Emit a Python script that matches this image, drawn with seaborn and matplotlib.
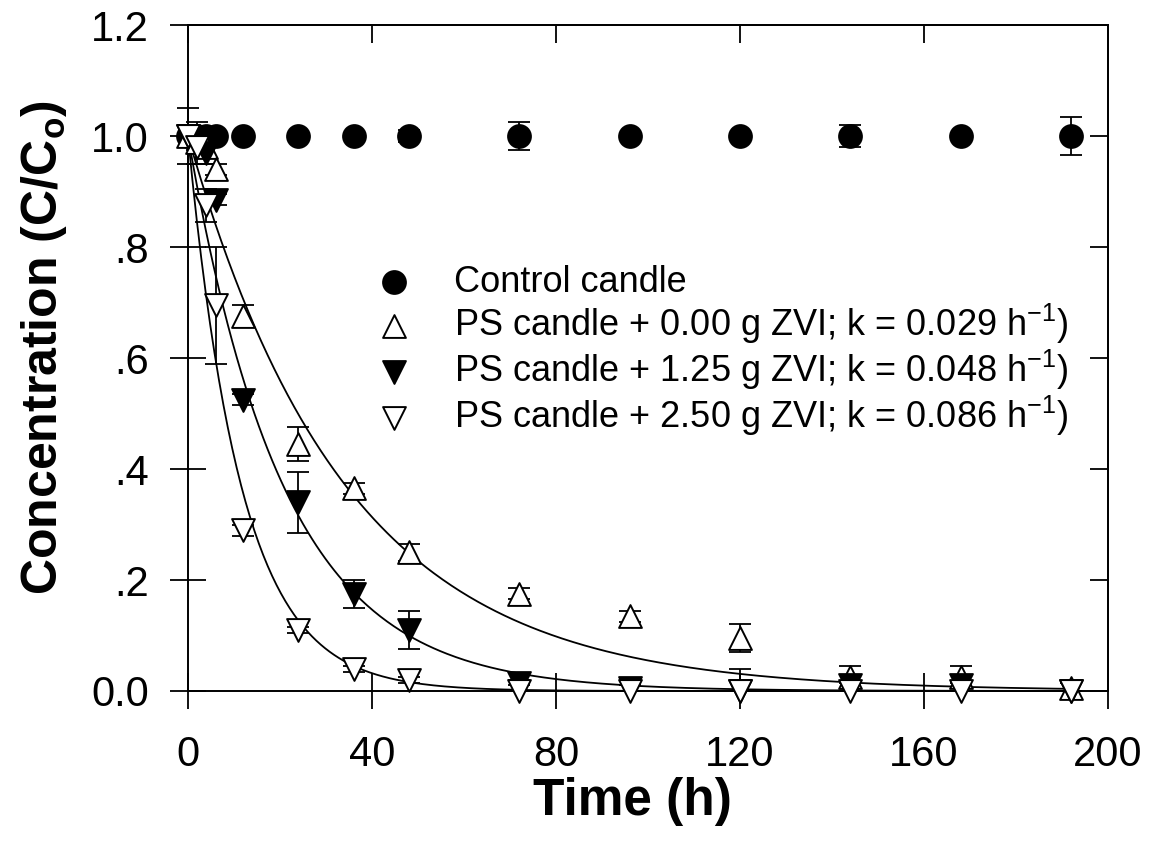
import numpy as np
import pandas as pd
import matplotlib
matplotlib.use('Agg')
import matplotlib.pyplot as plt
import seaborn as sns

sns.set_style('white')
plt.rcParams['font.family'] = ['Liberation Sans', 'DejaVu Sans']
plt.rcParams['mathtext.fontset'] = 'custom'
plt.rcParams['mathtext.rm'] = 'Liberation Sans'
plt.rcParams['mathtext.bf'] = 'Liberation Sans:bold'
plt.rcParams['text.color'] = 'black'
plt.rcParams['axes.labelcolor'] = 'black'
plt.rcParams['xtick.color'] = 'black'
plt.rcParams['ytick.color'] = 'black'

# sampling times (h)
time_h = [0, 2, 4, 6, 12, 24, 36, 48, 72, 96, 120, 144, 168, 192]

# control candle
control = [1.0, 1.0, 1.0, 1.0, 1.0, 1.0, 1.0, 1.0, 1.0, 1.0, 1.0, 1.0, 1.0, 1.0]
control_err = [0.05, 0.025, 0.01, 0.005, 0.005, 0.005, 0.005, 0.01, 0.025, 0.005, 0.005, 0.02, 0.005, 0.035]

# PS candle + 0.00 g ZVI
zvi_000 = [1.0, 0.99, 0.98, 0.94, 0.675, 0.445, 0.365, 0.25, 0.175, 0.135, 0.095, 0.025, 0.025, 0.005]
zvi_000_err = [0.02, 0.02, 0.02, 0.01, 0.02, 0.03, 0.01, 0.015, 0.01, 0.01, 0.025, 0.02, 0.02, 0.01]

# PS candle + 1.25 g ZVI
zvi_125 = [1.0, 0.99, 0.97, 0.885, 0.525, 0.34, 0.175, 0.11, 0.015, 0.005, 0.0, 0.01, 0.01, 0.0]
zvi_125_err = [0.02, 0.02, 0.02, 0.01, 0.01, 0.055, 0.025, 0.035, 0.005, 0.005, 0.0, 0.005, 0.005, 0.0]

# PS candle + 2.50 g ZVI
zvi_250 = [1.0, 0.98, 0.875, 0.695, 0.29, 0.11, 0.04, 0.02, 0.0, 0.0, 0.0, 0.0, 0.0, 0.0]
zvi_250_err = [0.02, 0.03, 0.03, 0.105, 0.01, 0.005, 0.005, 0.005, 0.0, 0.0, 0.04, 0.0, 0.0, 0.0]

# first-order rate constants (h^-1)
k_000 = 0.029
k_125 = 0.048
k_250 = 0.086

ytick_vals = [0.0, 0.2, 0.4, 0.6, 0.8, 1.0, 1.2]
ytick_labels = ['0.0', '.2', '.4', '.6', '.8', '1.0', '1.2']
xtick_vals = [0, 40, 80, 120, 160, 200]

fig = plt.figure(figsize=(11.49, 8.57), dpi=100)
ax = fig.add_axes([0.1636, 0.1937, 0.9643 - 0.1636, 0.9708 - 0.1937])

# fitted curves C/Co = exp(-k t)
t_fit = np.linspace(0, 192, 400)
for k in [k_000, k_125, k_250]:
    fit = pd.DataFrame({'t': t_fit, 'c': np.exp(-k * t_fit)})
    sns.lineplot(data=fit, x='t', y='c', ax=ax, color='black', lw=1.3, legend=False, zorder=2)

series = [
    (control, control_err, 'o', 'black', 'Control candle'),
    (zvi_000, zvi_000_err, '^', 'white', 'PS candle + 0.00 g ZVI; k = 0.029 h$^{-1}$)'),
    (zvi_125, zvi_125_err, 'v', 'black', 'PS candle + 1.25 g ZVI; k = 0.048 h$^{-1}$)'),
    (zvi_250, zvi_250_err, 'v', 'white', 'PS candle + 2.50 g ZVI; k = 0.086 h$^{-1}$)'),
]

for vals, err, mk, fc, lab in series:
    df = pd.DataFrame({'t': time_h, 'c': vals, 'e': err})
    eb = df[df['e'] > 0]
    # bars that would go below zero are drawn upward only
    lower = np.where((eb['c'] - eb['e']) < 0, eb['c'], eb['e'])
    ax.errorbar(eb['t'], eb['c'], yerr=[lower, eb['e']], fmt='none', ecolor='black',
                elinewidth=1.3, capsize=8, capthick=1.3, zorder=3, clip_on=False)
    sns.scatterplot(data=df, x='t', y='c', ax=ax, marker=mk, s=270, color=fc,
                    edgecolor='black', linewidth=1.4, label=lab, zorder=4)

for coll in ax.collections:
    coll.set_clip_on(False)
for ln in ax.lines:
    ln.set_clip_on(False)

ax.set_xlim(0, 200)
ax.set_ylim(0, 1.2)
ax.set_xticks(xtick_vals)
ax.set_yticks(ytick_vals)
ax.set_yticklabels(ytick_labels)
ax.tick_params(axis='both', labelsize=30, colors='black', width=1.3, bottom=True, left=True)
ax.tick_params(axis='x', which='both', direction='inout', length=26, pad=19)
ax.tick_params(axis='y', which='both', direction='inout', length=26, pad=15)

# top and right ticks, inward only
axt = ax.secondary_xaxis('top')
axt.set_xticks(xtick_vals)
axt.tick_params(direction='in', length=13, width=1.3, top=True, labeltop=False)
axr = ax.secondary_yaxis('right')
axr.set_yticks(ytick_vals)
axr.tick_params(direction='in', length=13, width=1.3, right=True, labelright=False)

for sp in ax.spines.values():
    sp.set_linewidth(1.4)
    sp.set_color('black')
    sp.set_visible(True)
for a in (axt, axr):
    for sp in a.spines.values():
        sp.set_linewidth(1.4)

ax.set_xlabel('Time (h)', fontsize=37, fontweight='bold', labelpad=1)
ax.xaxis.label.set_x(0.483)
ax.set_ylabel('Concentration (C/C$_\\mathbf{o}$)', fontsize=36, fontweight='bold', labelpad=16)
ax.yaxis.label.set_y(0.515)

leg = ax.legend(loc='upper left', bbox_to_anchor=(0.185, 0.667), frameon=False,
                fontsize=26, handletextpad=1.15, labelspacing=0.05, borderpad=0,
                handlelength=1.0, markerscale=1.0)
for t in leg.get_texts():
    t.set_color('black')

fig.savefig('out.png', dpi=100)
